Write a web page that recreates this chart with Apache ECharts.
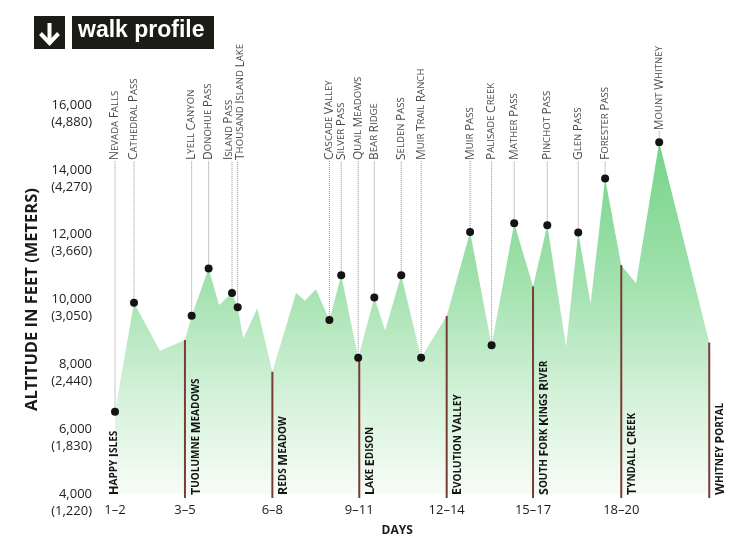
<!DOCTYPE html>
<html><head><meta charset="utf-8">
<script src="https://cdn.jsdelivr.net/npm/echarts@6/dist/echarts.min.js"></script>
<style>html,body{margin:0;padding:0;background:#fff}#c{width:752px;height:552px}</style>
</head><body><div id="c"></div>
<script>
// Trail profile vertices: miles from Happy Isles, altitude in feet
const profileMiles = [0, 7.06, 16.7, 26.0, 28.5, 34.8, 38.7, 43.5, 45.6, 47.7, 52.9, 58.5, 67.3, 70.6, 74.7, 79.7, 84.1, 90.4, 96.4, 100.4, 106.4, 113.8, 123.3, 132.0, 140.0, 148.4, 155.4, 160.7, 167.7, 172.2, 176.8, 182.2, 188.2, 193.7, 202.3, 220.9];
const profileFeet  = [6540, 9900, 8420, 8750, 9500, 10960, 9830, 10200, 9760, 8800, 9730, 7770, 10210, 9960, 10320, 9370, 10750, 8200, 10060, 9040, 10750, 8200, 9490, 12080, 8590, 12350, 10400, 12290, 8545, 12070, 9880, 13730, 11060, 10500, 14850, 8670];

// Landmarks labelled above the profile
const landmarkNames = ['Nevada Falls', 'Cathedral Pass', 'Lyell Canyon', 'Donohue Pass', 'Island Pass', 'Thousand Island Lake', 'Cascade Valley', 'Silver Pass', 'Quail Meadows', 'Bear Ridge', 'Selden Pass', 'Muir Trail Ranch', 'Muir Pass', 'Palisade Creek', 'Mather Pass', 'Pinchot Pass', 'Glen Pass', 'Forester Pass', 'Mount Whitney'];
const landmarkMiles = [0, 7.06, 28.5, 34.8, 43.5, 45.6, 79.7, 84.1, 90.4, 96.4, 106.4, 113.8, 132.0, 140.0, 148.4, 160.7, 172.2, 182.2, 202.3];
const landmarkFeet  = [6540, 9900, 9500, 10960, 10200, 9760, 9370, 10750, 8200, 10060, 10750, 8200, 12080, 8590, 12350, 12290, 12070, 13730, 14850];

// Camps (start of each day range)
const campNames = ['Happy Isles', 'Tuolumne Meadows', 'Reds Meadow', 'Lake Edison', 'Evolution Valley', 'South Fork Kings River', 'Tyndall Creek', 'Whitney Portal'];
const campMiles = [0, 26.0, 58.5, 90.8, 123.3, 155.4, 188.2, 220.9];
const campFeet  = [6540, 8750, 7770, 8300, 9490, 10400, 11060, 8670];
const dayLabels = ['1–2', '3–5', '6–8', '9–11', '12–14', '15–17', '18–20'];

// Axis ticks
const yTickFeet   = [4000, 6000, 8000, 10000, 12000, 14000, 16000];
const yTickMeters = ['1,220', '1,830', '2,440', '3,050', '3,660', '4,270', '4,880'];

const FONT = '"Open Sans", "DejaVu Sans", sans-serif';

function smallCaps(str, cap, sc) {
  return str.split(' ').map(w =>
    '{' + cap + '|' + w[0].toUpperCase() + '}' + (w.length > 1 ? '{' + sc + '|' + w.slice(1).toUpperCase() + '}' : '')
  ).join('{' + sc + '| }');
}
function fmtNum(v) { return v.toString().replace(/\B(?=(\d{3})+(?!\d))/g, ','); }

const chart = echarts.init(document.getElementById('c'), null, {renderer: 'canvas'});

const option = {
  animation: false,
  backgroundColor: '#ffffff',
  grid: {left: 115, right: 42.5, top: 105, bottom: 58, containLabel: false, outerBoundsMode: 'none'},
  xAxis: {
    type: 'value', min: 0, max: 221,
    axisLine: {show: false}, axisTick: {show: false}, splitLine: {show: false},
    axisLabel: {
      customValues: campMiles.slice(0, dayLabels.length),
      formatter: v => { const i = campMiles.indexOf(v); return i >= 0 ? dayLabels[i] : ''; },
      margin: 10, fontSize: 13, fontFamily: FONT, color: '#1a1a1a', hideOverlap: false
    },
    name: 'DAYS', nameLocation: 'middle', nameGap: 31,
    nameTextStyle: {fontSize: 12, fontWeight: 'bold', fontFamily: FONT, color: '#1a1a1a', padding: [0, 30, 0, 0]}
  },
  yAxis: {
    type: 'value', min: 4000, max: 16000, interval: 2000,
    axisLine: {show: false}, axisTick: {show: false}, splitLine: {show: false},
    axisLabel: {
      margin: 23,
      formatter: v => { const i = yTickFeet.indexOf(v); return '{e| }\n{a|' + fmtNum(v) + '}\n{b|(' + yTickMeters[i] + ')}'; },
      rich: {
        e: {fontSize: 13, lineHeight: 17, fontFamily: FONT, color: '#222'},
        a: {fontSize: 13, lineHeight: 17, fontFamily: FONT, color: '#222'},
        b: {fontSize: 13, lineHeight: 17, fontFamily: FONT, color: '#222'}
      }
    },
    name: 'ALTITUDE IN FEET (METERS)', nameLocation: 'middle', nameGap: 69,
    nameTextStyle: {fontSize: 16.5, fontWeight: 'bold', fontFamily: FONT, color: '#1a1a1a'}
  },
  graphic: [
    {type: 'rect', shape: {x: 34, y: 16, width: 31, height: 33}, style: {fill: '#1c1c16'}},
    {type: 'polyline', shape: {points: [[49.5, 23], [49.5, 43]]}, style: {stroke: '#fff', lineWidth: 4, fill: null}},
    {type: 'polyline', shape: {points: [[40.5, 33.5], [49.5, 43], [58.5, 33.5]]}, style: {stroke: '#fff', lineWidth: 4, fill: null, lineJoin: 'miter'}},
    {type: 'rect', shape: {x: 72, y: 16, width: 142, height: 33}, style: {fill: '#1c1c16'}},
    {type: 'text', x: 78, y: 31, style: {text: 'walk profile', fill: '#fff', font: 'bold 23px "Liberation Sans", Arial, sans-serif', verticalAlign: 'middle', align: 'left'}}
  ],
  series: [
    {
      type: 'line', z: 1,
      data: profileMiles.map((m, i) => [m, profileFeet[i]]),
      symbol: 'none', lineStyle: {width: 0},
      areaStyle: {
        opacity: 1,
        color: {type: 'linear', x: 0, y: 0, x2: 0, y2: 1, colorStops: [
          {offset: 0, color: '#74d488'},
          {offset: 0.4, color: '#a2e1ae'},
          {offset: 0.75, color: '#d8f3dd'},
          {offset: 1, color: '#f7fcf7'}
        ]}
      },
      silent: true
    },
    {
      type: 'custom', z: 2, clip: false, silent: true,
      data: landmarkMiles.map((m, i) => [m, landmarkFeet[i]]),
      renderItem: (params, api) => {
        const i = params.dataIndex;
        const p = api.coord([api.value(0), api.value(1)]);
        const top = Math.min(160, p[1] - 12);
        let dx = 0;
        if (i > 0 && p[0] - api.coord([landmarkMiles[i - 1], 8000])[0] < 9) dx += 3;
        if (i < landmarkMiles.length - 1 && api.coord([landmarkMiles[i + 1], 8000])[0] - p[0] < 9) dx -= 3;
        return {
          type: 'group',
          children: [
            {type: 'line', shape: {x1: p[0], y1: p[1], x2: p[0], y2: top + 1},
             style: {stroke: '#8e8e8e', lineWidth: 1, lineDash: [1, 1]}},
            {type: 'text', x: p[0] + dx, y: top, rotation: Math.PI / 2,
             style: {text: smallCaps(landmarkNames[i], 'c', 's'), align: 'left', verticalAlign: 'middle',
               rich: {
                 c: {fontSize: 12, fontFamily: FONT, fill: '#4a4a4a'},
                 s: {fontSize: 9.6, fontFamily: FONT, fill: '#4a4a4a'}
               }}}
          ]
        };
      }
    },
    {
      type: 'custom', z: 2, clip: false, silent: true,
      data: campMiles.map((m, i) => [m, campFeet[i]]),
      renderItem: (params, api) => {
        const i = params.dataIndex;
        const p = api.coord([api.value(0), api.value(1)]);
        const base = api.coord([0, 4000])[1];
        const children = [];
        if (i > 0) {
          children.push({type: 'line', shape: {x1: p[0], y1: p[1], x2: p[0], y2: base + 4},
            style: {stroke: '#7a3b32', lineWidth: 2}});
        }
        children.push({type: 'text', x: i === 0 ? p[0] - 1 : p[0] + 11, y: base + 1, rotation: Math.PI / 2,
          style: {text: smallCaps(campNames[i], 'c', 's'), align: 'left', verticalAlign: 'middle',
            rich: {
              c: {fontSize: 12.5, fontWeight: 'bold', fontFamily: FONT, fill: '#151515'},
              s: {fontSize: 10, fontWeight: 'bold', fontFamily: FONT, fill: '#151515'}
            }}});
        return {type: 'group', children};
      }
    },
    {
      type: 'scatter', z: 3, silent: true,
      data: landmarkMiles.slice(1).map((m, i) => [m, landmarkFeet[i + 1]]).concat([[campMiles[0], campFeet[0]]]),
      symbolSize: 8,
      itemStyle: {color: '#141414', opacity: 1}
    }
  ]
};
chart.setOption(option);
</script>
</body></html>
